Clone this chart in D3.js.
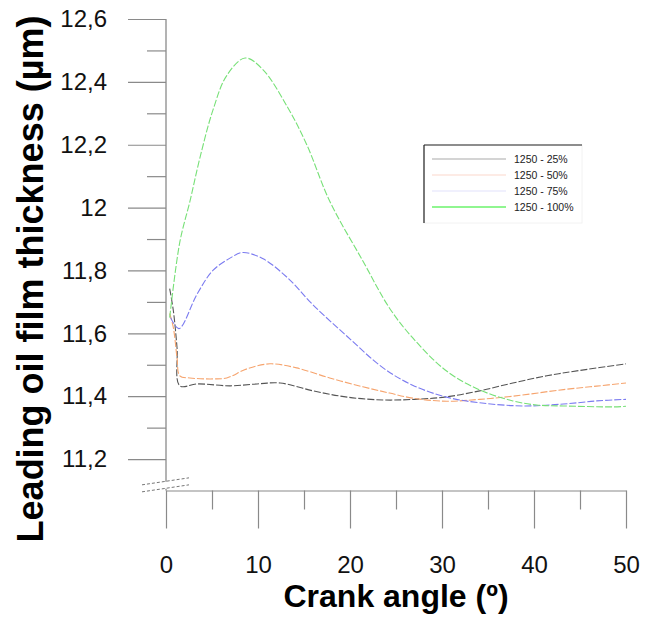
<!DOCTYPE html>
<html>
<head>
<meta charset="utf-8">
<script src="https://cdnjs.cloudflare.com/ajax/libs/d3/7.8.5/d3.min.js"></script>
<style>
  body { margin: 0; background: #fff; }
  svg { display: block; font-family: "Liberation Sans", Arial, sans-serif; }
</style>
</head>
<body>
<svg id="chart"></svg>
<script>
// crank angle (deg) / leading oil film thickness (um)
var angle25 = [0.4, 0.8, 1.2, 1.5, 3.4, 7.0, 9.9, 12.4, 16.0, 19.7, 23.6, 27.0, 30.5, 34.1, 37.7, 41.4, 45.0, 50];
var thick25 = [11.742, 11.672, 11.554, 11.433, 11.439, 11.433, 11.439, 11.442, 11.417, 11.397, 11.388, 11.39, 11.398, 11.417, 11.442, 11.465, 11.482, 11.503];

var angle50 = [0.4, 0.8, 1.2, 1.5, 2.6, 5.1, 6.6, 8.8, 11.3, 14.2, 17.8, 21.4, 24.3, 26.8, 30.5, 34.1, 37.7, 43.2, 46.8, 50];
var thick50 = [11.663, 11.618, 11.522, 11.465, 11.458, 11.455, 11.458, 11.487, 11.503, 11.49, 11.458, 11.43, 11.41, 11.394, 11.384, 11.39, 11.4, 11.421, 11.432, 11.442];

var angle75 = [0.5, 1.4, 3.4, 5.1, 7.0, 8.3, 10.5, 13.2, 16.0, 19.7, 23.6, 26.8, 30.5, 34.1, 38.8, 43.2, 46.8, 50];
var thick75 = [11.65, 11.615, 11.726, 11.80, 11.84, 11.857, 11.838, 11.777, 11.69, 11.59, 11.49, 11.435, 11.397, 11.379, 11.369, 11.375, 11.385, 11.39];

var angle100 = [0.4, 1.5, 2.6, 3.7, 5.1, 6.6, 8.6, 10.5, 13.2, 15.3, 17.8, 21.4, 24.3, 26.8, 30.5, 34.1, 37.7, 40.3, 43.2, 48.6, 50];
var thick100 = [11.65, 11.89, 12.02, 12.16, 12.31, 12.42, 12.476, 12.44, 12.32, 12.20, 12.02, 11.83, 11.68, 11.586, 11.48, 11.42, 11.385, 11.372, 11.369, 11.366, 11.368];

var seriesNames = ["1250 - 25%", "1250 - 50%", "1250 - 75%", "1250 - 100%"];
var lineColors = ["#555555", "#f6a46e", "#7b7bf0", "#77e077"];
var keyColors = ["#aaaaaa", "#fcd8cb", "#e2e2fb", "#22ee22"];

var xMajor = [0, 10, 20, 30, 40, 50];
var xMinor = [5, 15, 25, 35, 45];
var yMajor = [11.2, 11.4, 11.6, 11.8, 12, 12.2, 12.4, 12.6];
var yMajorLabels = ["11,2", "11,4", "11,6", "11,8", "12", "12,2", "12,4", "12,6"];
var yMinor = [11.3, 11.5, 11.7, 11.9, 12.1, 12.3, 12.5];

var width = 645, height = 623;

var svg = d3.select("#chart")
  .attr("width", width)
  .attr("height", height);

var x = d3.scaleLinear().domain([0, 50]).range([166, 626]);
var y = d3.scaleLinear().domain([11.1, 12.6]).range([490.5, 19]);

var axisColor = "#8a8a8a";

// x axis: long ticks with labels, short minor ticks
var gx = svg.append("g").attr("transform", "translate(0," + y(11.1) + ")");
gx.call(d3.axisBottom(x).tickValues(xMajor).tickSize(38).tickSizeOuter(0).tickPadding(27)
  .tickFormat(d3.format("d")));
gx.append("g").call(d3.axisBottom(x).tickValues(xMinor).tickSize(19).tickSizeOuter(0).tickFormat(""))
  .select(".domain").remove();

// y axis
var gy = svg.append("g").attr("transform", "translate(" + x(0) + ",0)");
gy.call(d3.axisLeft(y).tickValues(yMajor).tickSize(38).tickSizeOuter(0).tickPadding(21)
  .tickFormat(function(d, i) { return yMajorLabels[i]; }));
gy.append("g").call(d3.axisLeft(y).tickValues(yMinor).tickSize(19).tickSizeOuter(0).tickFormat(""))
  .select(".domain").remove();
gy.select(".domain").remove();

svg.selectAll(".tick line").attr("stroke", axisColor).attr("stroke-width", 1.2);
svg.selectAll(".tick text").attr("font-size", 24).attr("fill", "#111")
  .attr("font-family", "'Liberation Sans', Arial, sans-serif");
gx.select(".domain").attr("stroke", axisColor).attr("stroke-width", 1.2);

// y axis line with a break just above the x axis
var breakTop = y(11.118), breakBot = y(11.1);
svg.append("line")
  .attr("x1", x(0)).attr("x2", x(0))
  .attr("y1", y(12.6)).attr("y2", breakTop - 3)
  .attr("stroke", axisColor).attr("stroke-width", 1.3);
svg.append("line")
  .attr("x1", x(0)).attr("x2", x(0))
  .attr("y1", breakTop + 4).attr("y2", breakBot)
  .attr("stroke", axisColor).attr("stroke-width", 1.3);
[0, 7].forEach(function(off) {
  svg.append("line")
    .attr("x1", x(0) - 24).attr("y1", breakTop + off)
    .attr("x2", x(0) + 23).attr("y2", breakTop + off - 7)
    .attr("stroke", "#777").attr("stroke-width", 1)
    .attr("stroke-dasharray", "3,2");
});

// curves
var angles = [angle25, angle50, angle75, angle100];
var thicks = [thick25, thick50, thick75, thick100];

var line = d3.line()
  .x(function(d) { return x(d[0]); })
  .y(function(d) { return y(d[1]); })
  .curve(d3.curveCatmullRom.alpha(0.5));

angles.forEach(function(a, i) {
  var pts = a.map(function(v, j) { return [v, thicks[i][j]]; });
  svg.append("path")
    .datum(pts)
    .attr("d", line)
    .attr("fill", "none")
    .attr("stroke", lineColors[i])
    .attr("stroke-width", 1.1)
    .attr("stroke-dasharray", "7,2");
});

// legend
var legend = svg.append("g").attr("transform", "translate(424,145)");
legend.append("rect")
  .attr("width", 158).attr("height", 78)
  .attr("fill", "#fff").attr("stroke", "#f2f2f2");
legend.append("line").attr("x1", 0).attr("x2", 158).attr("y1", 0).attr("y2", 0)
  .attr("stroke", "#222").attr("stroke-width", 1.2);
legend.append("line").attr("x1", 0).attr("x2", 0).attr("y1", 0).attr("y2", 78)
  .attr("stroke", "#222").attr("stroke-width", 1.2);

var rows = legend.selectAll(".row").data(seriesNames).enter().append("g")
  .attr("class", "row")
  .attr("transform", function(d, i) { return "translate(0," + (14 + i * 16) + ")"; });
rows.append("line")
  .attr("x1", 8).attr("x2", 82)
  .attr("stroke", function(d, i) { return keyColors[i]; })
  .attr("stroke-width", 1.2);
rows.append("text")
  .attr("x", 90).attr("dy", "0.35em")
  .attr("font-size", 10.5).attr("fill", "#222")
  .text(function(d) { return d; });

// axis titles
svg.append("text")
  .attr("x", (x(0) + x(50)) / 2).attr("y", 607)
  .attr("text-anchor", "middle")
  .attr("font-size", 32).attr("font-weight", "bold").attr("fill", "#000")
  .text("Crank angle (º)");

svg.append("text")
  .attr("transform", "translate(43,279) rotate(-90)")
  .attr("text-anchor", "middle")
  .attr("font-size", 36).attr("font-weight", "bold").attr("fill", "#000")
  .text("Leading oil film thickness (µm)");
</script>
</body>
</html>
